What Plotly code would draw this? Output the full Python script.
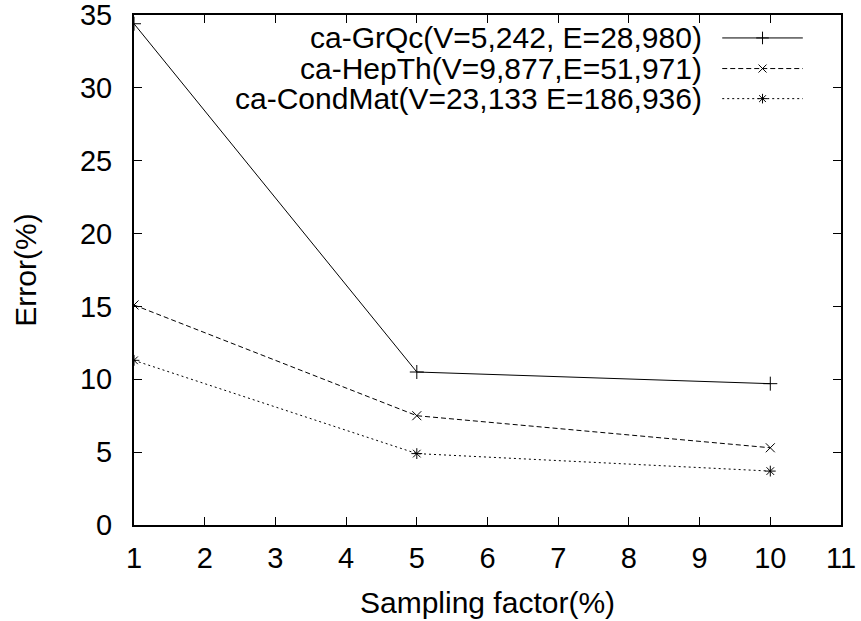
import plotly.graph_objects as go

sampling = [1, 5, 10]
grqc = [34.4, 10.5, 9.7]
hepth = [15.1, 7.5, 5.3]
condmat = [11.3, 4.9, 3.7]
names = ["ca-GrQc(V=5,242, E=28,980)", "ca-HepTh(V=9,877,E=51,971)", "ca-CondMat(V=23,133 E=186,936)"]
x_ticks = list(range(1, 12))
y_ticks = list(range(0, 36, 5))

FONT = "Liberation Sans, Arial, sans-serif"
series = [
    (grqc, "solid", "cross-thin", 10),
    (hepth, "5px,3px", "x-thin", 9),
    (condmat, "2px,3px", "asterisk-open", 9),
]

fig = go.Figure()
for (vals, dash, sym, ms), name in zip(series, names):
    fig.add_trace(go.Scatter(
        x=sampling, y=vals, mode="lines+markers", name=name,
        line=dict(color="black", width=1, dash=dash),
        marker=dict(symbol=sym, size=ms, color="black", line=dict(color="black", width=1)),
        showlegend=False))

# custom gnuplot-style key (text left, sample right)
rows = [0.955, 0.895, 0.836]
for (vals, dash, sym, ms), name, yy in zip(series, names, rows):
    fig.add_trace(go.Scatter(
        x=[0.832, 0.946], y=[yy, yy], mode="lines", xaxis="x2", yaxis="y2",
        line=dict(color="black", width=1, dash=dash), showlegend=False, hoverinfo="skip"))
    fig.add_trace(go.Scatter(
        x=[0.889], y=[yy], mode="markers", xaxis="x2", yaxis="y2",
        marker=dict(symbol=sym, size=ms - 1, color="black", line=dict(color="black", width=1)),
        showlegend=False, hoverinfo="skip"))
    fig.add_annotation(x=0.806, y=yy, xref="paper", yref="paper", text=name,
                       showarrow=False, xanchor="right", yanchor="middle",
                       font=dict(family=FONT, size=30, color="black"))

fig.update_layout(
    width=861, height=621,
    margin=dict(l=134, r=20, t=15, b=96),
    paper_bgcolor="white", plot_bgcolor="white",
    font=dict(family=FONT, size=29, color="black"),
    xaxis=dict(range=[1, 11], tickvals=x_ticks, ticks="inside", ticklen=8, tickwidth=1,
               tickcolor="black", showline=True, linecolor="black", linewidth=2,
               mirror="ticks", showgrid=False, zeroline=False, ticklabelstandoff=6,
               ticklabeloverflow="allow", automargin=False,
               title=dict(text="Sampling factor(%)", standoff=19, font=dict(size=30)),
               tickfont=dict(size=29)),
    yaxis=dict(range=[0, 35], tickvals=y_ticks, ticks="inside", ticklen=8, tickwidth=1,
               tickcolor="black", showline=True, linecolor="black", linewidth=2,
               mirror="ticks", showgrid=False, zeroline=False, ticklabelstandoff=14,
               ticklabeloverflow="allow", automargin=False,
               title=dict(text="Error(%)", standoff=34, font=dict(size=30)),
               tickfont=dict(size=29)),
    xaxis2=dict(range=[0, 1], overlaying="x", visible=False, fixedrange=True),
    yaxis2=dict(range=[0, 1], overlaying="y", visible=False, fixedrange=True),
)

fig.write_html("out.html")
